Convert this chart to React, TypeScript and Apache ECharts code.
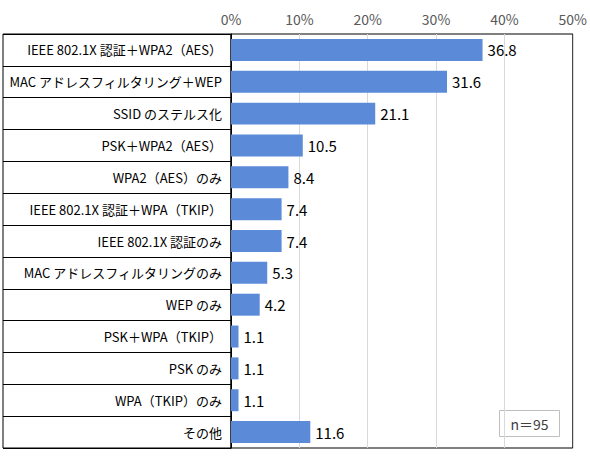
import React, { useEffect, useRef } from "react";
import * as echarts from "echarts";

const categories = [
  "IEEE 802.1X 認証＋WPA2（AES）",
  "MAC アドレスフィルタリング＋WEP",
  "SSID のステルス化",
  "PSK＋WPA2（AES）",
  "WPA2（AES）のみ",
  "IEEE 802.1X 認証＋WPA（TKIP）",
  "IEEE 802.1X 認証のみ",
  "MAC アドレスフィルタリングのみ",
  "WEP のみ",
  "PSK＋WPA（TKIP）",
  "PSK のみ",
  "WPA（TKIP）のみ",
  "その他",
];
const values = [36.8, 31.6, 21.1, 10.5, 8.4, 7.4, 7.4, 5.3, 4.2, 1.1, 1.1, 1.1, 11.6];
const xTicks = { min: 0, max: 50, interval: 10 };
const noteText = "n＝95";

const FONT = "'Noto Sans CJK JP', 'Noto Sans', sans-serif";

export default function App() {
  const ref = useRef<HTMLDivElement>(null);
  useEffect(() => {
    if (!ref.current) return;
    const chart = echarts.init(ref.current, null, { renderer: "svg" });
    chart.setOption({
      animation: false,
      backgroundColor: "#fff",
      textStyle: { fontFamily: FONT },
      grid: [
        { left: 231, right: 17, top: 34, bottom: 14, show: true, borderColor: "#000", borderWidth: 1, containLabel: false },
        { left: 3, width: 228, top: 34, bottom: 14, show: true, borderColor: "#000", borderWidth: 1, containLabel: false },
      ],
      xAxis: [
        {
          gridIndex: 0,
          type: "value",
          position: "top",
          min: xTicks.min,
          max: xTicks.max,
          interval: xTicks.interval,
          axisLine: { show: false },
          axisTick: { show: false },
          axisLabel: { formatter: "{value}%", color: "#595959", fontSize: 14, margin: 8, fontFamily: FONT },
          splitLine: { show: true, lineStyle: { color: "#D9D9D9", width: 1 } },
        },
        { gridIndex: 1, type: "value", show: false, min: 0, max: 1 },
      ],
      yAxis: [
        {
          gridIndex: 0,
          type: "category",
          data: categories,
          inverse: true,
          axisLine: { show: true, lineStyle: { color: "#000" } },
          axisTick: { show: false },
          axisLabel: { color: "#000", fontSize: 13, margin: 9, fontFamily: FONT },
          splitLine: { show: false },
        },
        {
          gridIndex: 1,
          type: "category",
          data: categories,
          inverse: true,
          axisLine: { show: false },
          axisTick: { show: false },
          axisLabel: { show: false },
          splitLine: { show: true, lineStyle: { color: "#000", width: 1 } },
        },
      ],
      series: [
        {
          type: "bar",
          xAxisIndex: 0,
          yAxisIndex: 0,
          data: values,
          barCategoryGap: "31%",
          itemStyle: { color: "#5B8BD8" },
          label: {
            show: true,
            position: "right",
            distance: 5,
            color: "#000",
            fontSize: 15,
            fontFamily: FONT,
            formatter: (p: any) => p.value.toFixed(1),
          },
        },
      ],
      graphic: [
        {
          type: "group",
          left: 499,
          top: 410,
          children: [
            { type: "rect", shape: { x: 0, y: 0, width: 60, height: 26 }, style: { fill: "#fff", stroke: "#BFBFBF", lineWidth: 1 } },
            {
              type: "text",
              x: 30,
              y: 13,
              style: { text: noteText, fill: "#404040", fontSize: 14, fontFamily: FONT, align: "center", verticalAlign: "middle" },
            },
          ],
        },
      ],
    });
    return () => chart.dispose();
  }, []);
  return <div ref={ref} style={{ position: "absolute", left: 0, top: 0, width: 590, height: 462 }} />;
}
